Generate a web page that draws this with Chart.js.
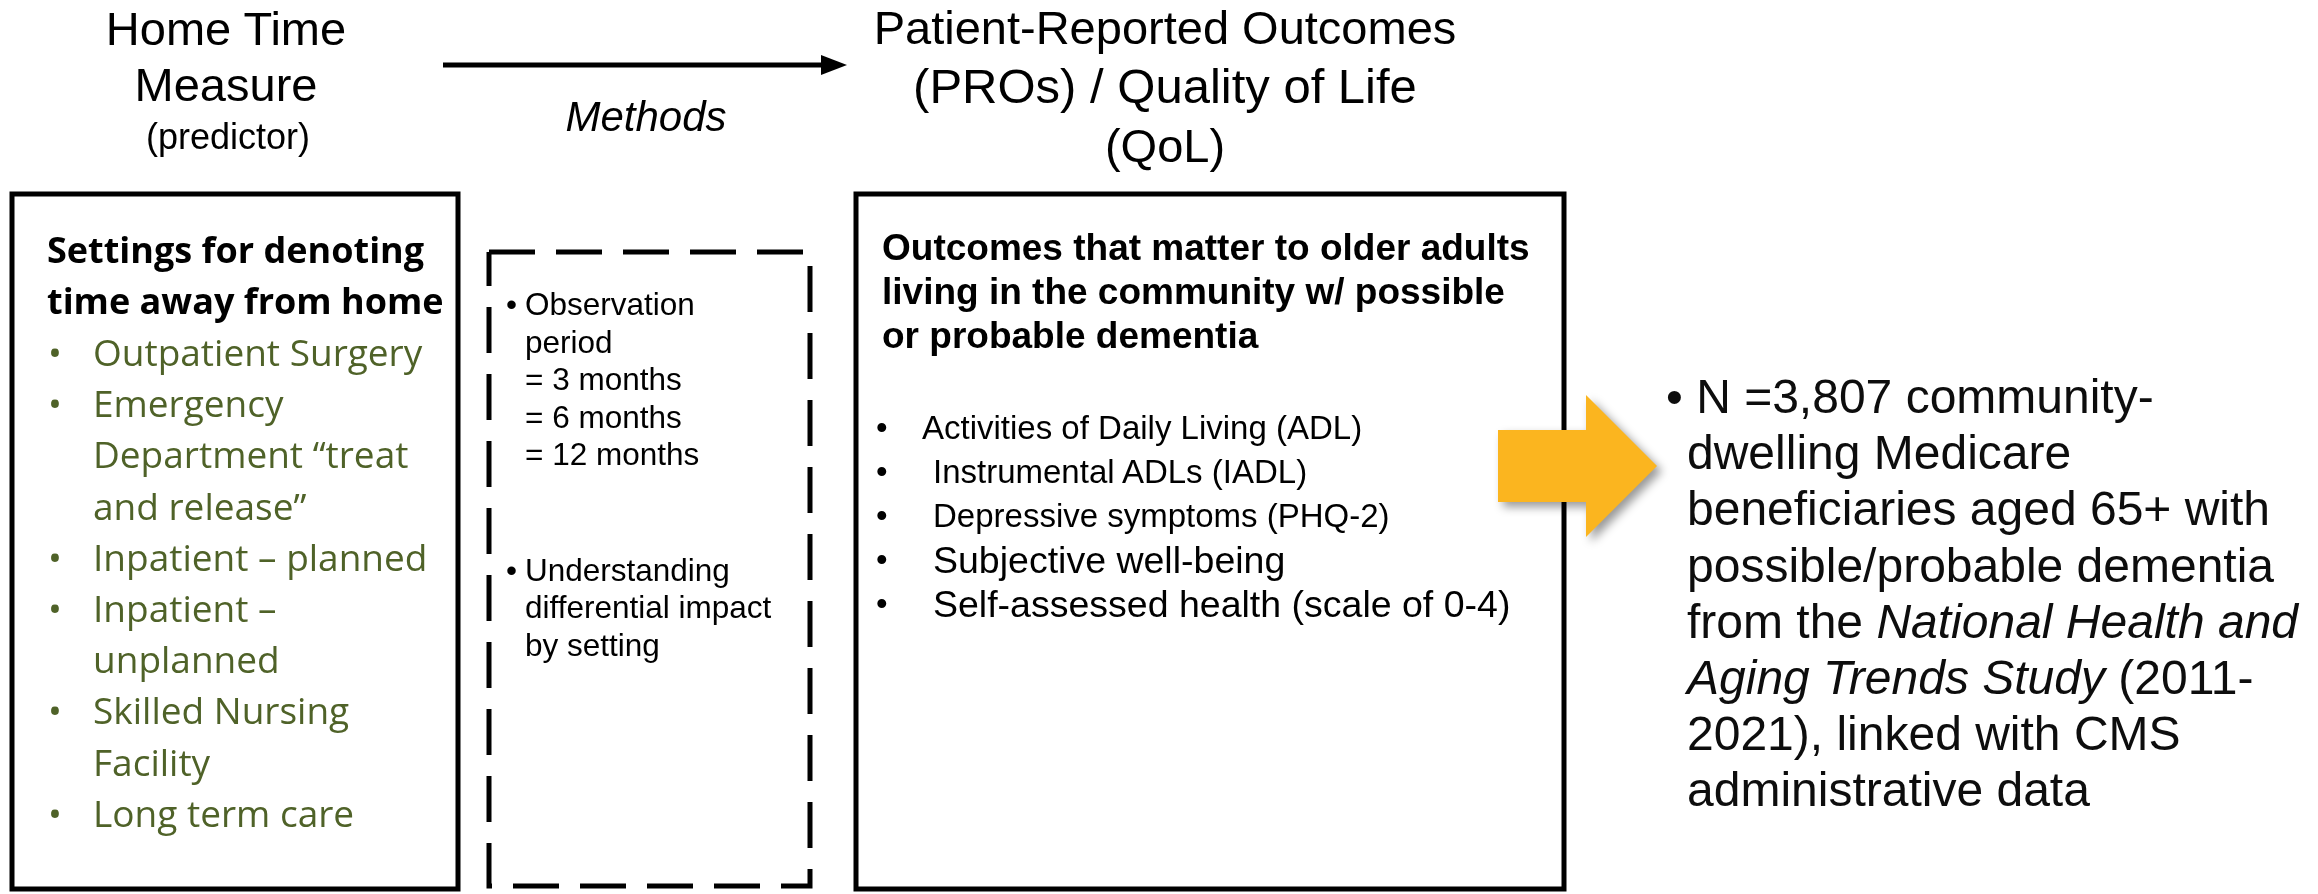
<!DOCTYPE html>
<html>
<head>
<meta charset="utf-8">
<script src="https://cdn.jsdelivr.net/npm/chart.js@4.4.1/dist/chart.umd.min.js"></script>
<style>
  html, body { margin: 0; padding: 0; background: #fff; }
  #stage { position: relative; width: 2318px; height: 894px; overflow: hidden; }
  #diagram { position: absolute; left: 0; top: 0; }
  .txt { position: absolute; white-space: pre; color: #000; }
  .arial { font-family: "Liberation Sans", Arial, sans-serif; }
  .calib { font-family: "Open Sans", sans-serif; }
  .item { position: relative; }
  .item .dot { position: absolute; }
</style>
</head>
<body>
<div id="stage">
  <canvas id="diagram" width="2318" height="894"></canvas>
  <div id="predTitle" class="txt arial" style="left:0;top:1px;width:452px;text-align:center;font-size:47px;line-height:56px;"></div>
  <div id="predNote" class="txt arial" style="left:0;top:117px;width:456px;text-align:center;font-size:36px;line-height:40px;"></div>
  <div id="methods" class="txt arial" style="left:546px;top:93px;width:200px;text-align:center;font-size:42px;line-height:48px;font-style:italic;"></div>
  <div id="outTitle" class="txt arial" style="left:865px;top:-2px;width:600px;text-align:center;font-size:47px;line-height:59px;"></div>

  <div id="settingsHead" class="txt calib" style="left:47px;top:224px;font-size:36px;line-height:51.2px;font-weight:700;"></div>
  <div id="settingsList" class="txt calib" style="left:93px;top:326px;font-size:37px;line-height:51.2px;color:#4f6228;"></div>

  <div id="methodList" class="txt arial" style="left:525px;top:286px;font-size:31.5px;line-height:37.5px;"></div>

  <div id="outHead" class="txt arial" style="left:882px;top:226px;font-size:37px;line-height:44px;font-weight:700;"></div>
  <div id="outList" class="txt arial" style="left:922px;top:406px;font-size:33px;line-height:44px;"></div>

  <div id="sample" class="txt arial" style="left:1687px;top:369px;font-size:48px;line-height:56.2px;color:#0d0d0d;"></div>
</div>
<script>
// ---- text content ----
const predictorTitle = ['Home Time', 'Measure'];
const predictorNote = '(predictor)';
const methodsLabel = 'Methods';
const outcomeTitle = ['Patient-Reported Outcomes', '(PROs) / Quality of Life', '(QoL)'];

const settingsHeader = ['Settings for denoting', 'time away from home'];
const settingsItems = [
  ['Outpatient Surgery'],
  ['Emergency', 'Department \u201ctreat', 'and release\u201d'],
  ['Inpatient \u2013 planned'],
  ['Inpatient \u2013', 'unplanned'],
  ['Skilled Nursing', 'Facility'],
  ['Long term care']
];

const methodItems = [
  ['Observation', 'period', '= 3 months', '= 6 months', '= 12 months'],
  ['Understanding', 'differential impact', 'by setting']
];

const outcomeHeader = ['Outcomes that matter to older adults', 'living in the community w/ possible', 'or probable dementia'];
const outcomeItems = [
  'Activities of Daily Living (ADL)',
  'Instrumental ADLs (IADL)',
  'Depressive symptoms (PHQ-2)',
  'Subjective well-being',
  'Self-assessed health (scale of 0-4)'
];

const sampleLines = [
  '\u2022 N =3,807 community-',
  'dwelling Medicare',
  'beneficiaries aged 65+ with',
  'possible/probable dementia',
  'from the National Health and',
  'Aging Trends Study (2011-',
  '2021), linked with CMS',
  'administrative data'
];
const italicPhrases = ['National Health and', 'Aging Trends Study'];

// ---- text placement ----
const el = id => document.getElementById(id);
el('predNote').textContent = predictorNote;
el('methods').textContent = methodsLabel;
el('settingsHead').textContent = settingsHeader.join('\n');
el('outHead').textContent = outcomeHeader.join('\n');
el('predTitle').textContent = predictorTitle.join('\n');

// second title line sits a touch wider in the original
const titleSizes = [47, 49, 47];
outcomeTitle.forEach((line, i) => {
  const d = document.createElement('div');
  d.style.fontSize = titleSizes[i] + 'px';
  d.textContent = line;
  el('outTitle').appendChild(d);
});

function bulletList(id, items, dotLeft, opts) {
  opts = opts || {};
  const box = el(id);
  items.forEach((lines, i) => {
    const d = document.createElement('div');
    d.className = 'item';
    if (i > 0 && opts.gap) d.style.marginTop = opts.gap + 'px';
    if (opts.indents) d.style.paddingLeft = opts.indents[i] + 'px';
    if (opts.sizes) d.style.fontSize = opts.sizes[i] + 'px';
    const dot = document.createElement('span');
    dot.className = 'dot';
    dot.textContent = '\u2022';
    dot.style.left = dotLeft + 'px';
    if (opts.sizes) dot.style.fontSize = '33px';
    d.appendChild(dot);
    d.appendChild(document.createTextNode([].concat(lines).join('\n')));
    box.appendChild(d);
  });
}
bulletList('settingsList', settingsItems, -45);
bulletList('methodList', methodItems, -19, { gap: 78 });
bulletList('outList', outcomeItems, -46, {
  indents: [0, 11, 11, 11, 11],
  sizes: [33, 33, 33, 37.5, 37.5]
});

const sample = el('sample');
sample.style.textIndent = '-21px';
sample.innerHTML = sampleLines.map(line => {
  let s = line;
  italicPhrases.forEach(p => { s = s.replace(p, '<i>' + p + '</i>'); });
  return s;
}).join('\n');

// ---- shapes, drawn by Chart.js on a hidden linear x/y grid in page pixels ----
const W = 2318, H = 894;
const leftBox   = [[12, 194], [458, 194], [458, 889], [12, 889], [12, 194]];
const methodBox = [[489, 252], [810, 252], [810, 886], [489, 886], [489, 252]];
const rightBox  = [[856, 194], [1564, 194], [1564, 889], [856, 889], [856, 194]];
const arrowLine = [[443, 65], [826, 65]];
const arrowHead = [[821, 55], [847, 65], [821, 75]];
const bigArrow  = [[1498, 430], [1586, 430], [1586, 395], [1657, 466], [1586, 537], [1586, 502], [1498, 502]];

const pts = a => a.map(([x, y]) => ({ x, y }));
function outline(a, dash) {
  return {
    data: pts(a), borderColor: '#000', borderWidth: 5, borderDash: dash || [],
    borderJoinStyle: 'miter', borderCapStyle: dash ? 'butt' : 'square',
    pointRadius: 0, fill: false, tension: 0, clip: false, order: 2
  };
}
function solid(a, color, shadow, order) {
  return { data: pts(a), showLine: false, pointRadius: 0, solid: color, shadow: shadow, clip: false, order: order };
}

// fills a closed polygon through the dataset's own points
const solidShape = {
  id: 'solidShape',
  beforeDatasetDraw(chart, args) {
    const ds = chart.data.datasets[args.index];
    if (!ds.solid) return;
    const ctx = chart.ctx;
    ctx.save();
    if (ds.shadow) {
      ctx.shadowColor = 'rgba(0,0,0,0.4)';
      ctx.shadowBlur = 10;
      ctx.shadowOffsetX = 5;
      ctx.shadowOffsetY = 5;
    }
    ctx.beginPath();
    args.meta.data.forEach((p, i) => i ? ctx.lineTo(p.x, p.y) : ctx.moveTo(p.x, p.y));
    ctx.closePath();
    ctx.fillStyle = ds.solid;
    ctx.fill();
    ctx.restore();
  }
};

new Chart(el('diagram').getContext('2d'), {
  type: 'line',
  data: {
    datasets: [
      solid(bigArrow, '#fbb51f', true, 0),
      solid(arrowHead, '#000', false, 1),
      Object.assign(outline(arrowLine), { borderCapStyle: 'butt' }),
      outline(leftBox),
      outline(methodBox, [46, 21]),
      outline(rightBox)
    ]
  },
  options: {
    responsive: false,
    animation: false,
    devicePixelRatio: 1,
    events: [],
    layout: { padding: 0 },
    scales: {
      x: { type: 'linear', min: 0, max: W, display: false },
      y: { type: 'linear', min: 0, max: H, reverse: true, display: false }
    },
    plugins: { legend: { display: false }, tooltip: { enabled: false } }
  },
  plugins: [solidShape]
});
</script>
</body>
</html>
